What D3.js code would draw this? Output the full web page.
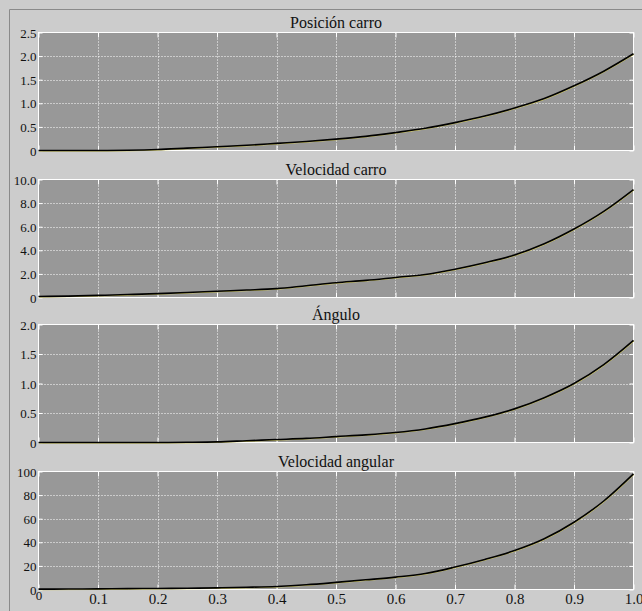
<!DOCTYPE html>
<html>
<head>
<meta charset="utf-8">
<script src="https://cdn.jsdelivr.net/npm/d3@7"></script>
<style>
  body { margin: 0; background: #cccccc; }
  svg { display: block; }
  .tick text { font-family: "Liberation Serif", serif; font-size: 13px; fill: #111; }
  .xlab .tick text { font-size: 15px; }
  .title { font-family: "Liberation Serif", serif; font-size: 16px; fill: #111; }
</style>
</head>
<body>
<svg width="642" height="611"></svg>
<script>
// time samples (s)
var t = [0, 0.05, 0.1, 0.15, 0.2, 0.25, 0.3, 0.35, 0.4, 0.45, 0.5, 0.55, 0.6, 0.65, 0.7, 0.75, 0.8, 0.85, 0.9, 0.95, 1.0];

var posicion = [0, 0, 0, 0.005, 0.02, 0.05, 0.08, 0.11, 0.15, 0.19, 0.24, 0.3, 0.38, 0.47, 0.59, 0.73, 0.9, 1.1, 1.37, 1.68, 2.05];
var velocidad = [0.08, 0.12, 0.18, 0.25, 0.33, 0.42, 0.53, 0.63, 0.75, 1.0, 1.25, 1.45, 1.7, 1.95, 2.4, 2.95, 3.6, 4.55, 5.8, 7.3, 9.15];
var angulo = [0, 0, 0, 0, 0, 0.003, 0.01, 0.03, 0.05, 0.07, 0.1, 0.13, 0.17, 0.23, 0.32, 0.43, 0.57, 0.76, 1.0, 1.32, 1.73];
var velAngular = [0.3, 0.4, 0.5, 0.7, 0.9, 1.1, 1.4, 1.9, 2.6, 4.0, 6.0, 8.2, 10.5, 13.5, 19, 25.5, 33, 43, 57, 75, 98];

var titles = ["Posición carro", "Velocidad carro", "Ángulo", "Velocidad angular"];
var series = [posicion, velocidad, angulo, velAngular];
var yMax = [2.5, 10, 2, 100];
var yTicks = [
  [0, 0.5, 1.0, 1.5, 2.0, 2.5],
  [0, 2, 4, 6, 8, 10],
  [0, 0.5, 1.0, 1.5, 2.0],
  [0, 20, 40, 60, 80, 100]
];
var xTicks = [0, 0.1, 0.2, 0.3, 0.4, 0.5, 0.6, 0.7, 0.8, 0.9, 1.0];

var svg = d3.select("svg");
var left = 38.5, right = 633.5;
var tops = [32.5, 179.5, 324.5, 471.5];
var ph = 118;

// outer frame
svg.append("path")
    .attr("d", "M9.5,611 V9.5 H642")
    .attr("fill", "none")
    .attr("stroke", "#8a8a8a");

var x = d3.scaleLinear().domain([0, 1]).range([left, right]);
var dec = function(d) { return d === 0 ? "0" : d3.format(".1f")(d); };

series.forEach(function(vals, i) {
  var top = tops[i], bottom = top + ph;
  var y = d3.scaleLinear().domain([0, yMax[i]]).range([bottom, top]);
  var g = svg.append("g");

  g.append("rect")
      .attr("x", left).attr("y", top)
      .attr("width", right - left).attr("height", ph)
      .attr("fill", "#989898");

  // dotted grid
  g.selectAll(".vg").data(xTicks.slice(1, -1)).enter().append("line")
      .attr("x1", function(d) { return Math.round(x(d)) + 0.5; })
      .attr("x2", function(d) { return Math.round(x(d)) + 0.5; })
      .attr("y1", top).attr("y2", bottom)
      .attr("stroke", "#fff").attr("stroke-dasharray", "1,2");
  g.selectAll(".hg").data(yTicks[i].slice(1, -1)).enter().append("line")
      .attr("x1", left).attr("x2", right)
      .attr("y1", function(d) { return Math.round(y(d)) + 0.5; })
      .attr("y2", function(d) { return Math.round(y(d)) + 0.5; })
      .attr("stroke", "#fff").attr("stroke-dasharray", "1,2");

  // frame
  g.append("rect")
      .attr("x", left).attr("y", top)
      .attr("width", right - left).attr("height", ph)
      .attr("fill", "none").attr("stroke", "#fff");

  // inward solid ticks
  var fmt = i === 3 ? d3.format("d") : dec;
  var yAxis = d3.axisLeft(y).tickValues(yTicks[i]).tickSizeInner(-4).tickSizeOuter(0).tickFormat(fmt);
  var ya = g.append("g").attr("transform", "translate(" + left + ",0)").call(yAxis);
  ya.select(".domain").remove();
  ya.selectAll(".tick line").attr("stroke", "#fff");
  ya.selectAll(".tick text").attr("x", -2).attr("dy", "0.35em");

  var yAxisR = d3.axisRight(y).tickValues(yTicks[i]).tickSizeInner(-4).tickSizeOuter(0).tickFormat("");
  var yr = g.append("g").attr("transform", "translate(" + right + ",0)").call(yAxisR);
  yr.select(".domain").remove();
  yr.selectAll(".tick line").attr("stroke", "#fff");

  var xAxisT = d3.axisTop(x).tickValues(xTicks).tickSizeInner(-5).tickSizeOuter(0).tickFormat("");
  var xt = g.append("g").attr("transform", "translate(0," + top + ")").call(xAxisT);
  xt.select(".domain").remove();
  xt.selectAll(".tick line").attr("stroke", "#fff");

  var xAxisB = d3.axisBottom(x).tickValues(xTicks).tickSizeInner(-5).tickSizeOuter(0)
      .tickFormat(i === 3 ? dec : "");
  var xb = g.append("g").attr("class", i === 3 ? "xlab" : null)
      .attr("transform", "translate(0," + bottom + ")").call(xAxisB);
  xb.select(".domain").remove();
  xb.selectAll(".tick line").attr("stroke", "#fff");
  if (i === 3) {
    xb.selectAll(".tick text").attr("y", 4).attr("dy", "0.71em");
    xb.selectAll(".tick text").filter(function(d) { return d === 0; })
        .attr("y", 1).style("font-size", "13px");
  }

  // title
  svg.append("text")
      .attr("class", "title")
      .attr("x", (left + right) / 2)
      .attr("y", top - 5)
      .attr("text-anchor", "middle")
      .text(titles[i]);

  var line = d3.line()
      .curve(d3.curveMonotoneX)
      .x(function(d, j) { return x(t[j]); })
      .y(function(d) { return y(d); });

  g.append("path")
      .datum(vals)
      .attr("fill", "none")
      .attr("stroke", "#d8d060")
      .attr("stroke-width", 1)
      .attr("transform", "translate(0.6,0.6)")
      .attr("d", line);

  g.append("path")
      .datum(vals)
      .attr("fill", "none")
      .attr("stroke", "#000")
      .attr("stroke-width", 1.6)
      .attr("d", line);
});
</script>
</body>
</html>
